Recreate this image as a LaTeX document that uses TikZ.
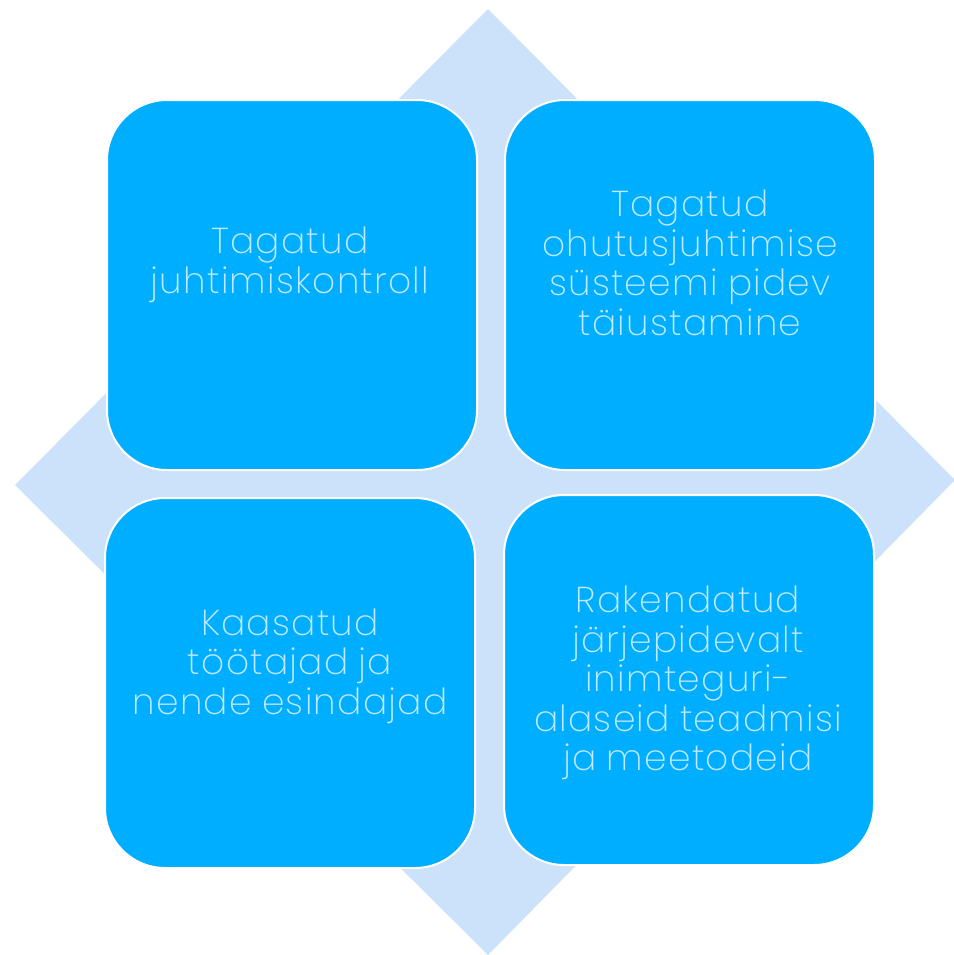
\documentclass[tikz,border=0pt]{standalone}
\usepackage{fontspec}
\usepackage{xcolor}
\usepackage{tikz}
\usetikzlibrary{positioning}
\IfFontExistsTF{Poppins ExtraLight}
  {\newfontfamily\thinfont[LetterSpace=3.5,WordSpace=0.9]{Poppins ExtraLight}}
  {\IfFontExistsTF{Poppins Light}
    {\newfontfamily\thinfont[LetterSpace=3.5,WordSpace=0.9]{Poppins Light}}
    {\newfontfamily\thinfont[LetterSpace=3.5,WordSpace=0.9]{Poppins}}}
\definecolor{diamondblue}{RGB}{204,226,250}
\definecolor{boxblue}{RGB}{0,174,255}
\definecolor{textblue}{RGB}{192,234,255}
\tikzset{
  tile/.style={draw=white, line width=1pt, fill=boxblue, rounded corners=30pt,
    minimum width=185pt, minimum height=185pt, inner sep=0pt},
  tiletext/.style={text=textblue, align=center, font=\thinfont\fontsize{18}{19.8}\selectfont}
}
\begin{document}
\begin{tikzpicture}[x=0.5pt, y=-0.5pt]
        \useasboundingbox (0,0) rectangle (954,955);
        % Background diamond
        \fill[diamondblue] (488,9) -- (955,480) -- (488,955) -- (15,485) -- cycle;

        % Four tiles
        \node[tile] (topleft) at (292,285) {};
        \node[tile] (topright) at (690,285) {};
        \node[tile] (bottomleft) at (290,683) {};
        \node[tile] (bottomright) at (689,680) {};

        % Tile texts
        \node[tiletext] (tltext) at (290,265) {Tagatud\\juhtimiskontroll};
        \node[tiletext] (trtext) at (690,263) {Tagatud\\ohutusjuhtimise\\süsteemi pidev\\täiustamine};
        \node[tiletext] (bltext) at (290,666) {Kaasatud\\töötajad ja\\nende esindajad};
        \node[tiletext] (brtext) at (688,683) {Rakendatud\\järjepidevalt\\inimteguri-\\alaseid teadmisi\\ja meetodeid};
\end{tikzpicture}
\end{document}
